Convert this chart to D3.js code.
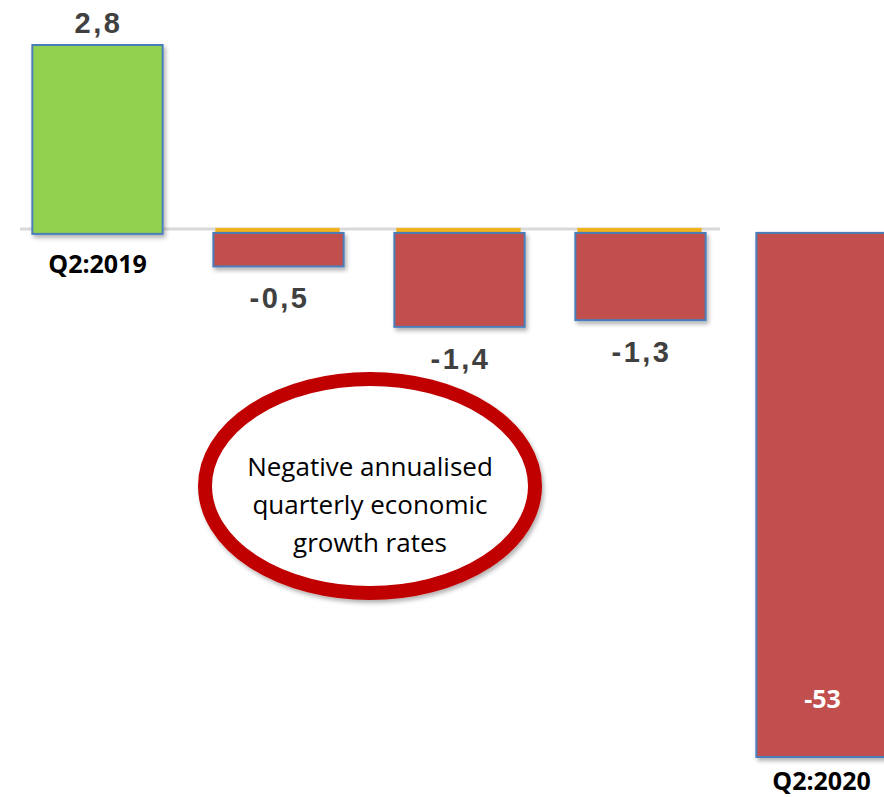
<!DOCTYPE html>
<html lang="en">
<head>
<meta charset="UTF-8">
<title>Quarterly growth rates</title>
<script src="https://d3js.org/d3.v7.min.js"></script>
<style>
  body { margin: 0; background: #fff; }
  .value { font-family: "Liberation Sans", Arial, sans-serif; font-weight: bold; font-size: 29px; letter-spacing: 2.5px; fill: #404040; }
  .tick-label { font-family: "Open Sans", sans-serif; font-weight: bold; font-size: 25px; fill: #000; }
  .note { font-family: "Open Sans", sans-serif; font-size: 26px; fill: #000; }
</style>
</head>
<body>
<svg width="884" height="797"></svg>
<script>
// data
const categories = ["Q2:2019", "Q3:2019", "Q4:2019", "Q1:2020", "Q2:2020"];
const values = [2.8, -0.5, -1.4, -1.3, -53];
const valueLabels = ["2,8", "-0,5", "-1,4", "-1,3", "-53"];
const tickLabels = ["Q2:2019", "", "", "", "Q2:2020"];
const noteLines = ["Negative annualised", "quarterly economic", "growth rates"];

const svg = d3.select("svg");

const defs = svg.append("defs");
const shadow = defs.append("filter").attr("id", "shadow")
  .attr("x", "-10%").attr("y", "-10%").attr("width", "130%").attr("height", "130%");
shadow.append("feDropShadow").attr("dx", 2).attr("dy", 3).attr("stdDeviation", 2)
  .attr("flood-color", "#000").attr("flood-opacity", 0.3);

const x = d3.scaleBand()
  .domain(categories)
  .range([7, 912])
  .paddingInner(0.28)
  .paddingOuter(0.14);

// the last bar runs off the bottom, so the scale is clamped
const y = d3.scaleLinear()
  .domain([-7.81, 2.8])
  .range([757, 45])
  .clamp(true);

// zero line
svg.append("line")
  .attr("x1", 20).attr("x2", 720)
  .attr("y1", y(0) - 4).attr("y2", y(0) - 4)
  .attr("stroke", "#d9d9d9").attr("stroke-width", 3);

const data = categories.map((c, i) => ({ cat: c, v: values[i], label: valueLabels[i], tick: tickLabels[i], i: i }));

// orange shade behind the small negative bars
svg.selectAll(".under")
  .data(data.filter(d => d.v < 0 && d.i < 4))
  .enter().append("rect")
  .attr("class", "under")
  .attr("x", d => x(d.cat) + 2)
  .attr("y", y(0) - 5)
  .attr("width", x.bandwidth() - 6)
  .attr("height", d => y(d.v) - y(0) + 3)
  .attr("fill", "#f2b21c");

svg.selectAll(".bar")
  .data(data)
  .enter().append("rect")
  .attr("class", "bar")
  .attr("x", d => x(d.cat))
  .attr("y", d => d.v >= 0 ? y(d.v) : y(0))
  .attr("width", x.bandwidth())
  .attr("height", d => Math.abs(y(d.v) - y(0)) + (d.v >= 0 ? 1 : 0))
  .attr("fill", d => d.v >= 0 ? "#92d050" : "#c0504d")
  .attr("stroke", "#4a7ebb")
  .attr("stroke-width", 2)
  .attr("filter", "url(#shadow)");

// value labels
svg.selectAll(".value")
  .data(data)
  .enter().append("text")
  .attr("class", "value")
  .attr("text-anchor", "middle")
  .attr("x", d => x(d.cat) + x.bandwidth() / 2 + 1)
  .attr("y", d => {
    if (d.v >= 0) return y(d.v) - 12;
    if (d.i === 4) return y(d.v) - 49;
    return y(d.v) + 42;
  })
  .style("fill", d => d.i === 4 ? "#fff" : null)
  .style("font-family", d => d.i === 4 ? "'Open Sans', sans-serif" : null)
  .style("font-size", d => d.i === 4 ? "25px" : null)
  .style("letter-spacing", d => d.i === 4 ? "0px" : null)
  .text(d => d.label);

// category labels
svg.selectAll(".tick-label")
  .data(data.filter(d => d.tick))
  .enter().append("text")
  .attr("class", "tick-label")
  .attr("text-anchor", "middle")
  .attr("x", d => x(d.cat) + x.bandwidth() / 2)
  .attr("y", d => d.v >= 0 ? y(0) + 40 : y(d.v) + 33)
  .text(d => d.tick);

// callout
svg.append("ellipse")
  .attr("cx", 370).attr("cy", 486)
  .attr("rx", 165).attr("ry", 107)
  .attr("fill", "#fff")
  .attr("stroke", "#c00000")
  .attr("stroke-width", 14)
  .attr("filter", "url(#shadow)");

svg.selectAll(".note")
  .data(noteLines)
  .enter().append("text")
  .attr("class", "note")
  .attr("text-anchor", "middle")
  .attr("x", 370)
  .attr("y", (d, i) => 476 + i * 38)
  .text(d => d);
</script>
</body>
</html>
